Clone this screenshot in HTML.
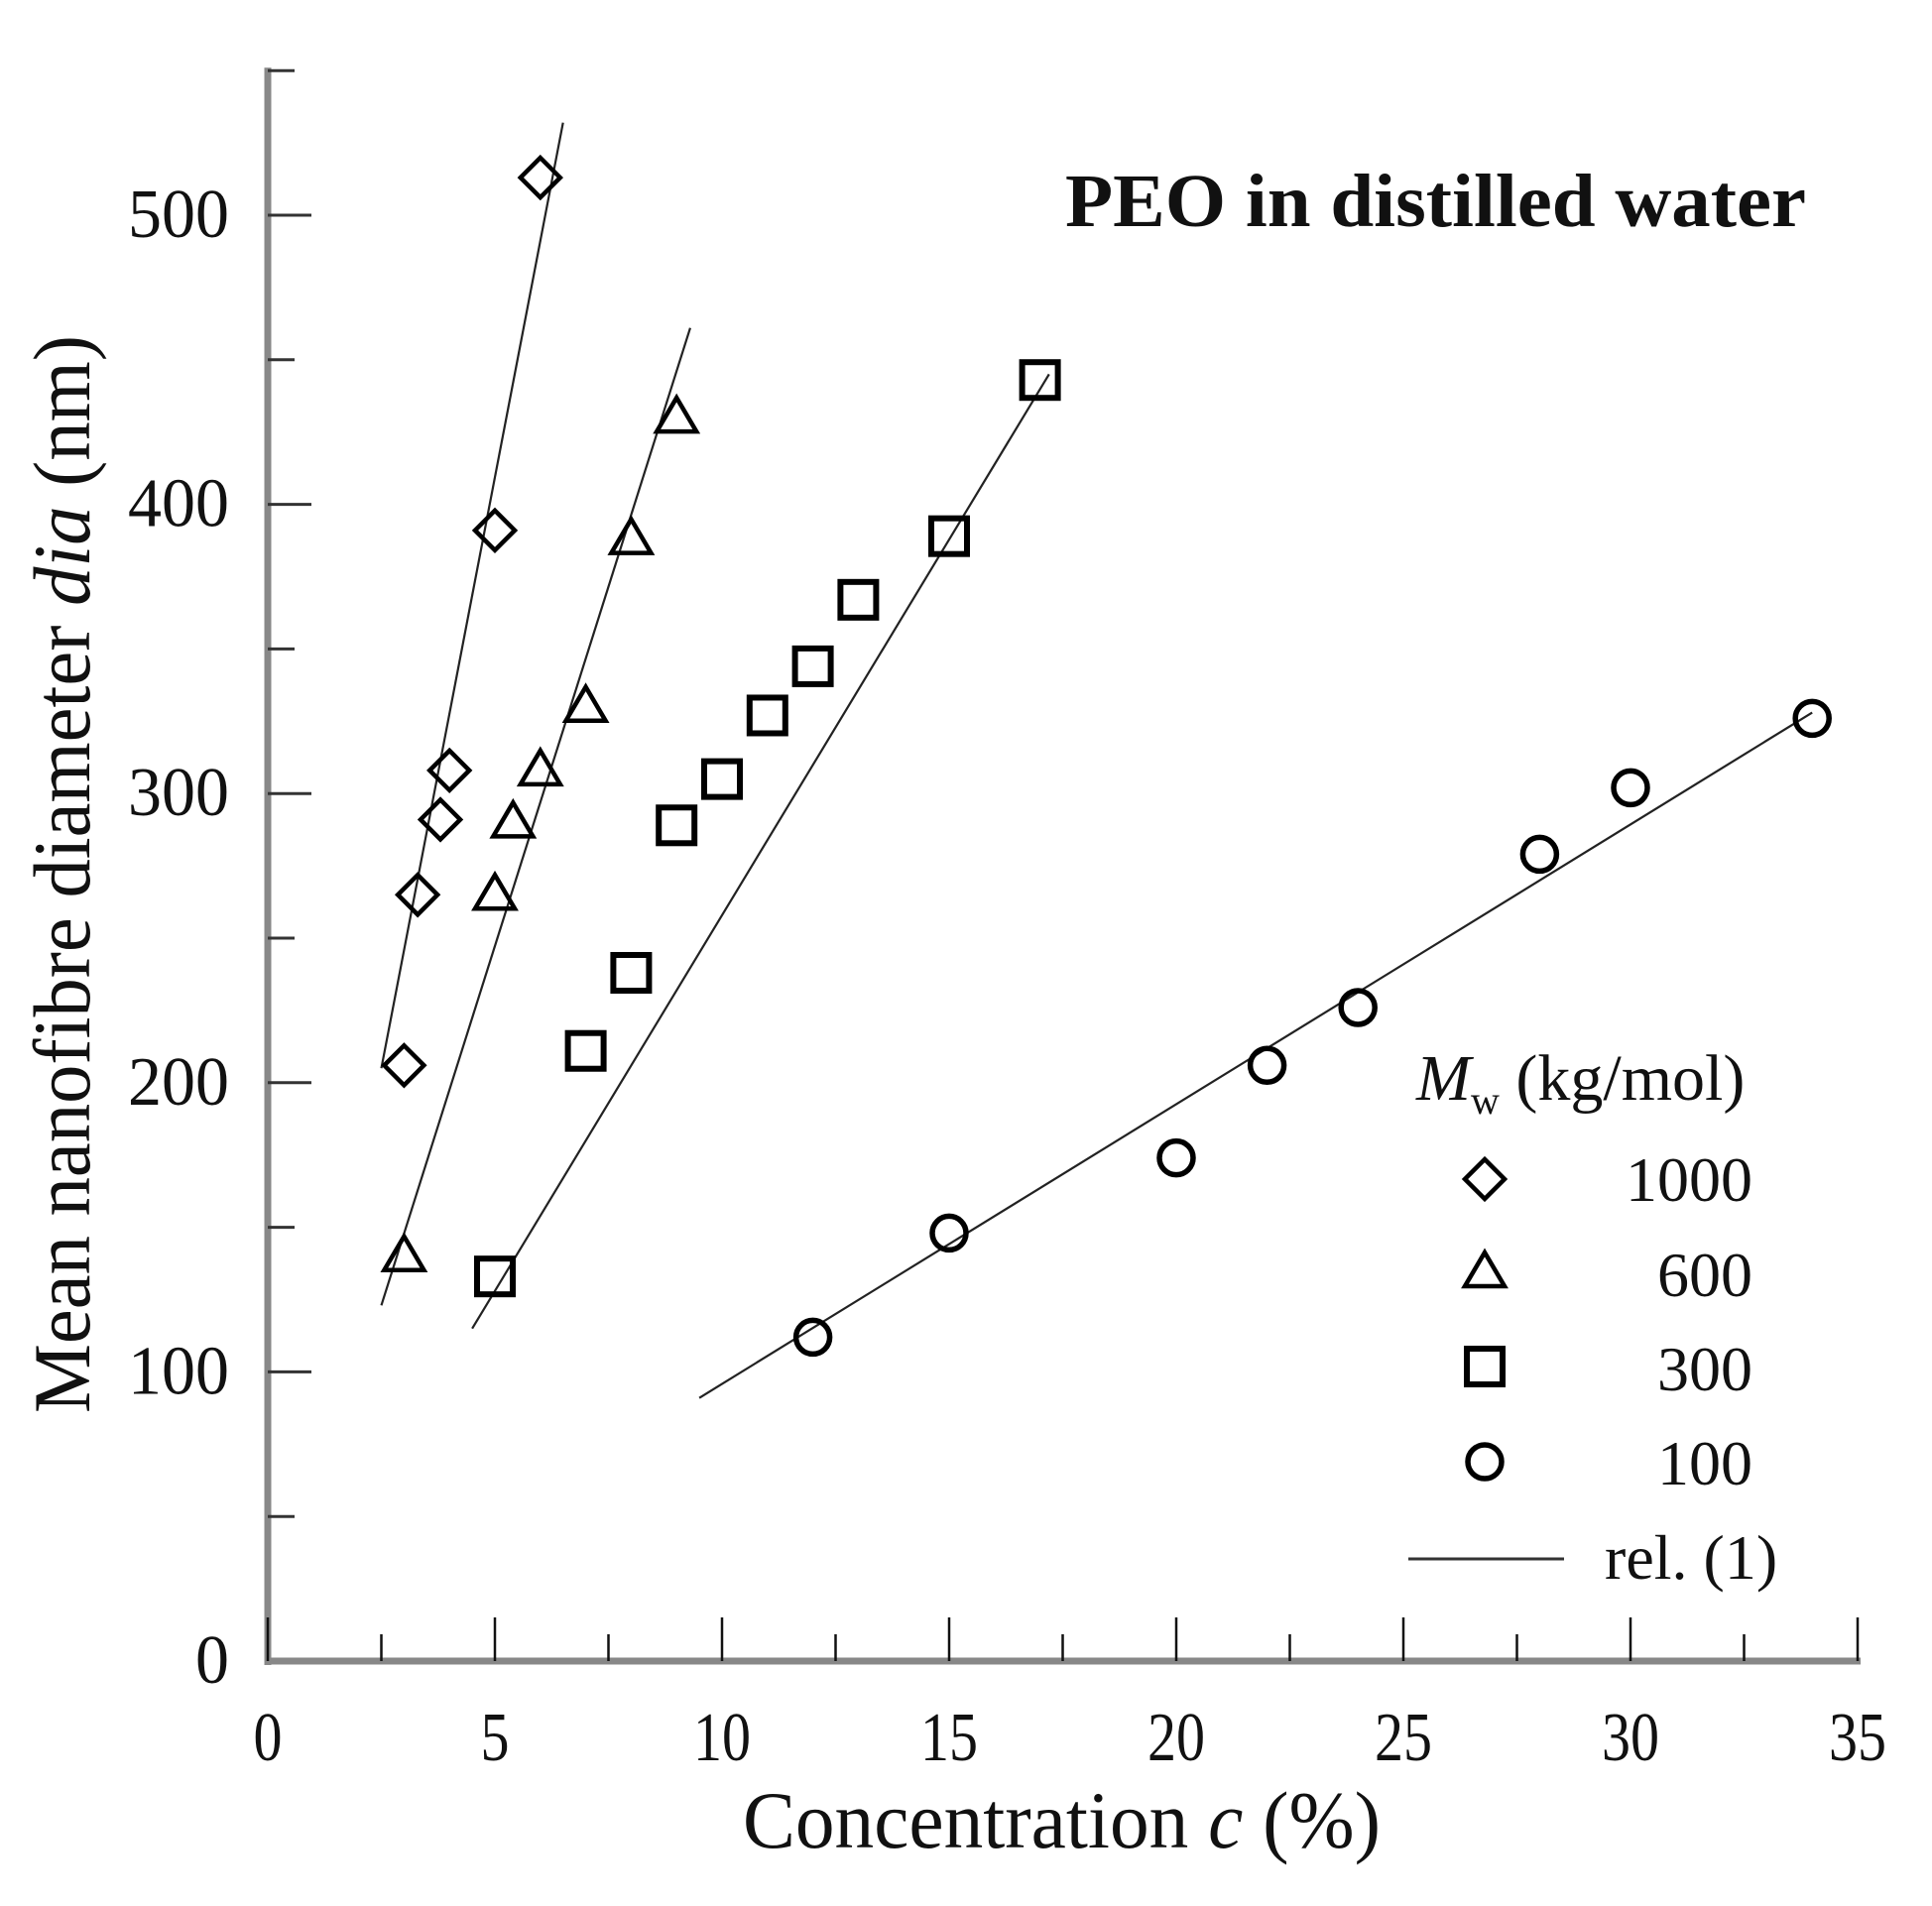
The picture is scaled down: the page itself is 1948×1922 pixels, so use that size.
<!DOCTYPE html>
<html><head><meta charset="utf-8"><style>
html,body{margin:0;padding:0;background:#fff;}
svg{display:block;}
text{font-family:"Liberation Serif",serif;fill:#111;}
</style></head>
<body>
<svg id="chart" width="1948" height="1922" viewBox="0 0 1948 1922" xmlns="http://www.w3.org/2000/svg">
<text x="1074" y="228" font-size="76" font-weight="bold" textLength="747" lengthAdjust="spacingAndGlyphs">PEO in distilled water</text>
<text x="749" y="1863" font-size="82" textLength="643" lengthAdjust="spacingAndGlyphs">Concentration <tspan font-style="italic">c</tspan> (%)</text>
<text transform="translate(90,882) rotate(-90)" x="-543" y="0" font-size="82" textLength="1087" lengthAdjust="spacingAndGlyphs">Mean nanofibre diameter <tspan font-style="italic">dia</tspan> (nm)</text>
<g id="axes"></g>
<g id="lines"></g>
<g id="marks"></g>
<g id="legend">
<text x="1428" y="1109" font-size="66"><tspan font-style="italic">M</tspan><tspan font-size="40" dy="14">w</tspan><tspan dy="-14"> (kg/mol)</tspan></text>
<text x="1767" y="1211" font-size="64" text-anchor="end">1000</text>
<text x="1767" y="1307" font-size="64" text-anchor="end">600</text>
<text x="1767" y="1402" font-size="64" text-anchor="end">300</text>
<text x="1767" y="1497" font-size="64" text-anchor="end">100</text>
<line x1="1420" y1="1572" x2="1577" y2="1572" stroke="#333" stroke-width="3"/>
<text x="1618" y="1592" font-size="64">rel. (1)</text>
</g>
</svg>
<script>
const xTicks = [0,5,10,15,20,25,30,35];
const yTicks = [0,100,200,300,400,500];
const seriesNames = ["1000","600","300","100"];
const c1000 = [3,3.3,3.8,4,5,6];
const d1000 = [206,265,291,308,391,513];
const c600 = [3,5,5.4,6,7,8,9];
const d600 = [140,265,290,308,330,388,430];
const c300 = [5,7,8,9,10,11,12,13,15,17];
const d300 = [133,211,238,289,305,327,344,367,389,443];
const c100 = [12,15,20,22,24,28,30,34];
const d100 = [112,148,174,206,226,279,302,326];
const fit1000 = [[2.5,205],[6.5,532]];
const fit600 = [[2.5,123],[9.3,461]];
const fit300 = [[4.5,115],[17.2,445]];
const fit100 = [[9.5,91],[34,328]];

const NS="http://www.w3.org/2000/svg";
const X0=270, X35=1873, Y0=1675, Y500=217;
function xs(v){return X0+(X35-X0)*v/35;}
function ys(v){return Y0-(Y0-Y500)*v/500;}
function mk(tag,attrs,parent){const e=document.createElementNS(NS,tag);for(const k in attrs)e.setAttribute(k,attrs[k]);parent.appendChild(e);return e;}
const axes=document.getElementById('axes');
let e;
e=mk('line',{x1:X0,y1:ys(550)-3,x2:X0,y2:Y0+4,stroke:'#888','stroke-width':7},axes);


e=mk('line',{x1:X0-3,y1:Y0,x2:X35+3,y2:Y0,stroke:'#888','stroke-width':7},axes);


for(let v=0;v<=35;v+=2.5){const maj=v%5===0;
 e=mk('line',{x1:xs(v),y1:Y0,x2:xs(v),y2:Y0-(maj?44:27),stroke:'#111','stroke-width':2.5},axes);
 
 }
for(let v=50;v<=550;v+=50){const maj=v%100===0;
 e=mk('line',{x1:X0,y1:ys(v),x2:X0+(maj?44:27),y2:ys(v),stroke:'#333','stroke-width':3},axes);
 
 }
xTicks.forEach(v=>{const t=mk('text',{x:xs(v),y:1775,'font-size':70,'text-anchor':'middle',textLength:(String(v).length*29),lengthAdjust:'spacingAndGlyphs'},axes);t.textContent=v;
 
 });
yTicks.forEach(v=>{const s=String(v);const t=mk('text',{x:231,y:ys(v)+22,'font-size':70,'text-anchor':'end',textLength:(s.length*34),lengthAdjust:'spacingAndGlyphs'},axes);t.textContent=s;
 
 });

const lines=document.getElementById('lines');
[fit1000,fit600,fit300,fit100].forEach((f,i)=>{
 const l=mk('line',{x1:xs(f[0][0]),y1:ys(f[0][1]),x2:xs(f[1][0]),y2:ys(f[1][1]),stroke:'#222','stroke-width':2.2},lines);
 
 });

function diamond(p,cx,cy){return mk('polygon',{points:`${cx},${cy-20} ${cx+20},${cy} ${cx},${cy+20} ${cx-20},${cy}`,fill:'none',stroke:'#000','stroke-width':4.5},p);}
function tri(p,cx,cy){return mk('polygon',{points:`${cx},${cy-20} ${cx+20},${cy+14} ${cx-20},${cy+14}`,fill:'none',stroke:'#000','stroke-width':4.5},p);}
function sq(p,cx,cy){return mk('rect',{x:cx-18,y:cy-18,width:36,height:36,fill:'none',stroke:'#000','stroke-width':6},p);}
function circ(p,cx,cy){return mk('circle',{cx:cx,cy:cy,r:17,fill:'none',stroke:'#000','stroke-width':5.5},p);}
const marks=document.getElementById('marks');
const sets=[[c1000,d1000,diamond],[c600,d600,tri],[c300,d300,sq],[c100,d100,circ]];
sets.forEach((s,i)=>{s[0].forEach((c,j)=>{const m=s[2](marks,xs(c),ys(s[1][j]));
 
 });});
const leg=document.getElementById('legend');
const legY=[1189,1283,1378,1474];
sets.forEach((s,i)=>{const m=s[2](leg,1497,legY[i]);
 
 });
</script>
</body></html>
